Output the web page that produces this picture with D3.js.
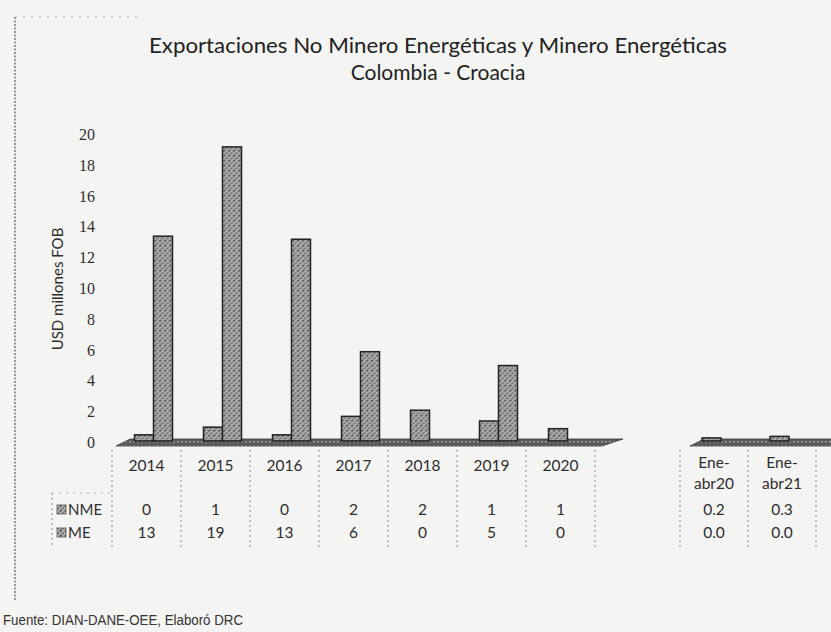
<!DOCTYPE html>
<html>
<head>
<meta charset="utf-8">
<script src="https://cdn.jsdelivr.net/npm/d3@7"></script>
<style>
  body { margin: 0; background: #f4f4f2; }
  svg { display: block; }
</style>
</head>
<body>
<script>
const years = ["2014", "2015", "2016", "2017", "2018", "2019", "2020"];
const periods = ["Ene-abr20", "Ene-abr21"];
const periodLines = [["Ene-", "abr20"], ["Ene-", "abr21"]];
const series = ["NME", "ME"];
const nmeYears = [0.4, 0.9, 0.4, 1.6, 2.0, 1.3, 0.8];
const meYears = [13.3, 19.1, 13.1, 5.8, 0, 4.9, 0];
const nmePeriods = [0.2, 0.3];
const mePeriods = [0.0, 0.0];
const yTicks = [0, 2, 4, 6, 8, 10, 12, 14, 16, 18, 20];

const W = 831, H = 632;
const sans = "Lato, 'Open Sans', sans-serif";
const ink = "#2e2e2e";

const svg = d3.select("body").append("svg")
  .attr("width", W)
  .attr("height", H);

// halftone-ish texture for the bars
const defs = svg.append("defs");
const pat = defs.append("pattern")
  .attr("id", "grain")
  .attr("width", 5).attr("height", 5)
  .attr("patternUnits", "userSpaceOnUse");
pat.append("rect").attr("width", 5).attr("height", 5).attr("fill", "#ababab");
pat.append("rect").attr("x", 0).attr("y", 0).attr("width", 1.6).attr("height", 1.6).attr("fill", "#444");
pat.append("rect").attr("x", 2.6).attr("y", 2.4).attr("width", 1.4).attr("height", 1.4).attr("fill", "#555");
pat.append("rect").attr("x", 3.8).attr("y", 0.6).attr("width", 1).attr("height", 1).attr("fill", "#6a6a6a");
pat.append("rect").attr("x", 1).attr("y", 3.6).attr("width", 1.2).attr("height", 1).attr("fill", "#505050");
pat.append("rect").attr("x", 2).attr("y", 1).attr("width", 0.8).attr("height", 0.8).attr("fill", "#dcdcdc");

const floorPat = defs.append("pattern")
  .attr("id", "floor")
  .attr("width", 4).attr("height", 4)
  .attr("patternUnits", "userSpaceOnUse");
floorPat.append("rect").attr("width", 4).attr("height", 4).attr("fill", "#5a5a5a");
floorPat.append("rect").attr("x", 1).attr("y", 1).attr("width", 1.5).attr("height", 1.5).attr("fill", "#b0b0b0");

// page border of the scanned figure
svg.append("line")
  .attr("x1", 15).attr("x2", 15).attr("y1", 17).attr("y2", 600)
  .attr("stroke", "#555").attr("stroke-width", 1.2)
  .attr("stroke-dasharray", "2,1.5");
svg.append("line")
  .attr("x1", 15).attr("x2", 140).attr("y1", 17).attr("y2", 17)
  .attr("stroke", "#aaa").attr("stroke-width", 1)
  .attr("stroke-dasharray", "2,6");

// title
svg.append("text")
  .attr("x", 438).attr("y", 53)
  .attr("text-anchor", "middle")
  .style("font-family", sans).style("font-size", "21px").style("fill", "#222")
  .attr("textLength", 578)
  .attr("lengthAdjust", "spacingAndGlyphs")
  .text("Exportaciones No Minero Energéticas y Minero Energéticas");
svg.append("text")
  .attr("x", 438).attr("y", 80)
  .attr("text-anchor", "middle")
  .style("font-family", sans).style("font-size", "21px").style("fill", "#222")
  .text("Colombia - Croacia");

// scales
const y = d3.scaleLinear().domain([0, 20]).range([443, 135]);
const x = d3.scaleBand().domain(years).range([112, 595]);
const x2 = d3.scaleBand().domain(periods).range([680, 816]);
const xs = d3.scaleBand().domain(series).range([0, 38]);
const depth = 7;

// y axis labels (no axis line in the original)
svg.append("g")
  .selectAll("text")
  .data(yTicks)
  .join("text")
  .attr("x", 95)
  .attr("y", d => y(d) + 5)
  .attr("text-anchor", "end")
  .style("font-family", "'Liberation Serif', serif")
  .style("font-size", "16px")
  .style("fill", ink)
  .text(d => d);

svg.append("text")
  .attr("transform", "translate(63," + y(10) + ") rotate(-90)")
  .attr("text-anchor", "middle")
  .style("font-family", sans).style("font-size", "15px").style("fill", ink)
  .text("USD millones FOB");

// 3D-ish floors
function floor(x0, x1) {
  svg.append("path")
    .attr("d", `M${x0},${y(0) + 3} L${x1 - depth},${y(0) + 3} L${x1 + depth * 2},${y(0) - 4} L${x0 + depth * 2},${y(0) - 4} Z`)
    .attr("fill", "url(#floor)")
    .attr("stroke", "#3a3a3a")
    .attr("stroke-width", 0.8);
}
floor(x.range()[0] + 4, x.range()[1] + 14);
floor(x2.range()[0] + 10, W + 10);

// bars
function drawBars(scale, nme, me) {
  const rows = scale.domain().map((c, i) => ({c, NME: nme[i], ME: me[i]}));
  const g = svg.append("g").selectAll("g")
    .data(rows)
    .join("g")
    .attr("transform", d => "translate(" + (scale(d.c) + (scale.bandwidth() - 38) / 2 + depth) + ",0)");
  g.selectAll("rect")
    .data(d => series.map(s => ({s, v: d[s]})))
    .join("rect")
    .attr("x", d => xs(d.s))
    .attr("width", xs.bandwidth())
    .attr("y", d => y(d.v) - 2)
    .attr("height", d => Math.max(0, y(0) - y(d.v)))
    .attr("fill", "url(#grain)")
    .attr("stroke", "#222")
    .attr("stroke-width", 1.5)
    .attr("display", d => d.v > 0 ? null : "none");
}
drawBars(x, nmeYears, meYears);
drawBars(x2, nmePeriods, mePeriods);

// data table
const rowY = {head: 466, NME: 510, ME: 533};
const tableTop = 450, tableBottom = 548;
const dash = "2,3";

function tableLines(scale) {
  const edges = scale.domain().map(c => scale(c)).concat([scale.range()[1]]);
  svg.append("g").selectAll("line")
    .data(edges)
    .join("line")
    .attr("x1", d => d).attr("x2", d => d)
    .attr("y1", tableTop).attr("y2", tableBottom)
    .attr("stroke", "#888").attr("stroke-width", 1)
    .attr("stroke-dasharray", dash);
}
tableLines(x);
tableLines(x2);

// legend box on the left of the table
svg.append("line")
  .attr("x1", 52).attr("x2", 52).attr("y1", 493).attr("y2", 548)
  .attr("stroke", "#888").attr("stroke-dasharray", dash);
svg.append("line")
  .attr("x1", 52).attr("x2", 112).attr("y1", 493).attr("y2", 493)
  .attr("stroke", "#aaa").attr("stroke-dasharray", "2,5");

series.forEach(s => {
  svg.append("rect")
    .attr("x", 57).attr("y", rowY[s] - 5)
    .attr("width", 9).attr("height", 9)
    .attr("fill", "url(#grain)")
    .attr("stroke", "#555").attr("stroke-width", 0.8);
  svg.append("text")
    .attr("x", 68).attr("y", rowY[s] + 5)
    .style("font-family", sans).style("font-size", "15px").style("fill", ink)
    .text(s);
});

const fmtY = d3.format(".0f");
const fmtP = d3.format(".1f");

svg.append("g").selectAll("text")
  .data(years)
  .join("text")
  .attr("x", d => x(d) + x.bandwidth() / 2)
  .attr("y", rowY.head + 5)
  .attr("text-anchor", "middle")
  .style("font-family", sans).style("font-size", "15.5px").style("fill", ink)
  .text(d => d);

[["NME", nmeYears], ["ME", meYears]].forEach(([s, vals]) => {
  svg.append("g").selectAll("text")
    .data(years)
    .join("text")
    .attr("x", d => x(d) + x.bandwidth() / 2)
    .attr("y", rowY[s] + 5)
    .attr("text-anchor", "middle")
    .style("font-family", sans).style("font-size", "15.5px").style("fill", ink)
    .text((d, i) => fmtY(vals[i]));
});

periods.forEach((p, i) => {
  const cx = x2(p) + x2.bandwidth() / 2;
  periodLines[i].forEach((t, j) => {
    svg.append("text")
      .attr("x", cx).attr("y", rowY.head + 2 + j * 21)
      .attr("text-anchor", "middle")
      .style("font-family", sans).style("font-size", "15.5px").style("fill", ink)
      .text(t);
  });
  svg.append("text")
    .attr("x", cx).attr("y", rowY.NME + 5)
    .attr("text-anchor", "middle")
    .style("font-family", sans).style("font-size", "15.5px").style("fill", ink)
    .text(fmtP(nmePeriods[i]));
  svg.append("text")
    .attr("x", cx).attr("y", rowY.ME + 5)
    .attr("text-anchor", "middle")
    .style("font-family", sans).style("font-size", "15.5px").style("fill", ink)
    .text(fmtP(mePeriods[i]));
});

// source note
svg.append("text")
  .attr("x", 3).attr("y", 625)
  .attr("textLength", 240)
  .attr("lengthAdjust", "spacingAndGlyphs")
  .style("font-family", "'Liberation Sans', Arial, sans-serif")
  .style("font-size", "14px").style("fill", "#333")
  .text("Fuente: DIAN-DANE-OEE, Elaboró DRC");
</script>
</body>
</html>
